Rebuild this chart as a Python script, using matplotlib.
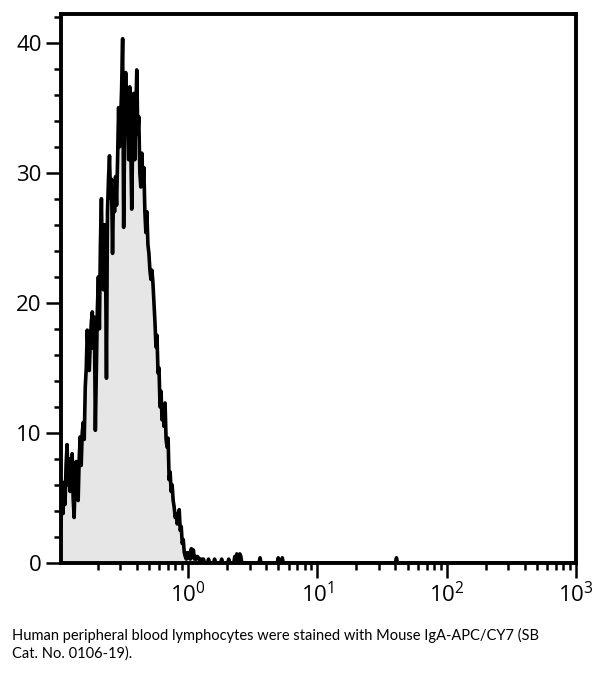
import numpy as np
import matplotlib
matplotlib.use("Agg")
import matplotlib.pyplot as plt
from matplotlib.ticker import LogLocator, MultipleLocator, FixedLocator

# Histogram counts, one per channel (128 channels per decade), starting at the left edge
main_counts = [
    3.0, 5.8, 3.8, 6.2, 4.5, 7.5, 9.1, 6.0, 8.0, 5.5,
    7.2, 8.4, 5.0, 3.5, 6.5, 7.8, 5.0, 4.8, 8.0, 9.7,
    7.5, 10.0, 10.8, 9.5, 13.5, 15.0, 17.9, 16.0, 14.8, 17.0,
    18.5, 19.3, 16.5, 18.9, 10.2, 15.0, 19.5, 22.0, 18.0, 24.5,
    28.0, 22.5, 21.0, 26.0, 24.0, 14.2, 27.0, 29.5, 31.3, 28.0,
    29.5, 23.8, 28.5, 27.0, 29.7, 27.5, 31.0, 35.0, 32.0, 34.0,
    36.5, 40.3, 25.8, 33.0, 37.7, 33.5, 35.6, 31.0, 36.6, 32.5,
    27.2, 33.0, 36.1, 31.0, 34.5, 37.9, 33.0, 34.3, 30.0, 28.9,
    31.5, 29.0, 30.4, 27.0, 25.4, 27.0, 24.5, 23.8, 22.5, 21.8,
    22.5, 21.5, 20.0, 18.5, 16.6, 17.5, 14.6, 15.0, 12.0, 13.2,
    11.0, 11.8, 10.5, 12.3, 9.5, 8.9, 9.6, 6.4, 7.0, 5.5,
    6.0, 4.8, 4.3, 3.5, 3.8, 3.0, 3.3, 4.1, 2.5, 2.8,
    1.5, 1.8, 0.8, 0.5, 0.3, 0.8, 0.4, 0.8,
]
# sparse events further right (channel index, count)
tail_channels = [128, 129, 130, 131, 132, 133, 134, 135, 136, 137, 139, 141,
                 146, 152, 159, 166, 172, 174, 175, 177, 178, 197, 215, 219, 332]
tail_counts = [0.3, 1.1, 0.5, 1.0, 0.3, 0.5, 0.3, 0.5, 0.4, 0.3, 0.3, 0.3,
               0.3, 0.3, 0.3, 0.3, 0.5, 0.7, 0.4, 0.7, 0.5, 0.4, 0.4, 0.4, 0.4]

y_ticks = [0, 10, 20, 30, 40]
x_ticks = [1, 10, 100, 1000]
x_labels = [r"$\mathregular{10^{0}}$", r"$\mathregular{10^{1}}$",
            r"$\mathregular{10^{2}}$", r"$\mathregular{10^{3}}$"]
caption = ("Human peripheral blood lymphocytes were stained with Mouse IgA-APC/CY7 (SB\n"
           "Cat. No. 0106-19).")

LOG_MIN = -0.982
PER_DECADE = 128
n_channels = int((3 - LOG_MIN) * PER_DECADE) + 1

counts = np.zeros(n_channels)
counts[:len(main_counts)] = main_counts
counts[tail_channels] = tail_counts
x = 10 ** (LOG_MIN + np.arange(n_channels) / PER_DECADE)

plt.rcParams['font.family'] = ['Open Sans', 'DejaVu Sans']

fig = plt.figure(figsize=(6.04, 6.75), dpi=100)
ax = fig.add_axes([61 / 604, 1 - 563 / 675, (576 - 61) / 604, (563 - 14) / 675])

ax.fill_between(x, counts, 0, color='#e6e6e6', linewidth=0, zorder=1)
ax.plot(x, counts, color='black', linewidth=2.6, zorder=2)

ax.set_xscale('log')
ax.set_xlim(10 ** LOG_MIN, 1000)
ax.set_ylim(0, 42.2)

ax.xaxis.set_major_locator(FixedLocator(x_ticks))
ax.set_xticklabels(x_labels)
ax.xaxis.set_minor_locator(LogLocator(base=10, subs=np.arange(2, 10), numticks=20))
ax.xaxis.set_minor_formatter(plt.NullFormatter())
ax.yaxis.set_major_locator(FixedLocator(y_ticks))
ax.yaxis.set_minor_locator(MultipleLocator(2))

ax.tick_params(axis='both', which='major', direction='out', length=11, width=1.8,
               labelsize=16, pad=3)
ax.tick_params(axis='y', which='minor', direction='out', length=5, width=1.8)
ax.tick_params(axis='x', which='minor', direction='out', length=5, width=1.8)

for s in ax.spines.values():
    s.set_linewidth(2.8)
    s.set_zorder(3)

fig.text(12 / 604, 1 - 628 / 675, caption, fontsize=10.5, va='top', ha='left',
         family=['Lato', 'DejaVu Sans'], linespacing=1.25)

fig.savefig("out.png", dpi=100)
